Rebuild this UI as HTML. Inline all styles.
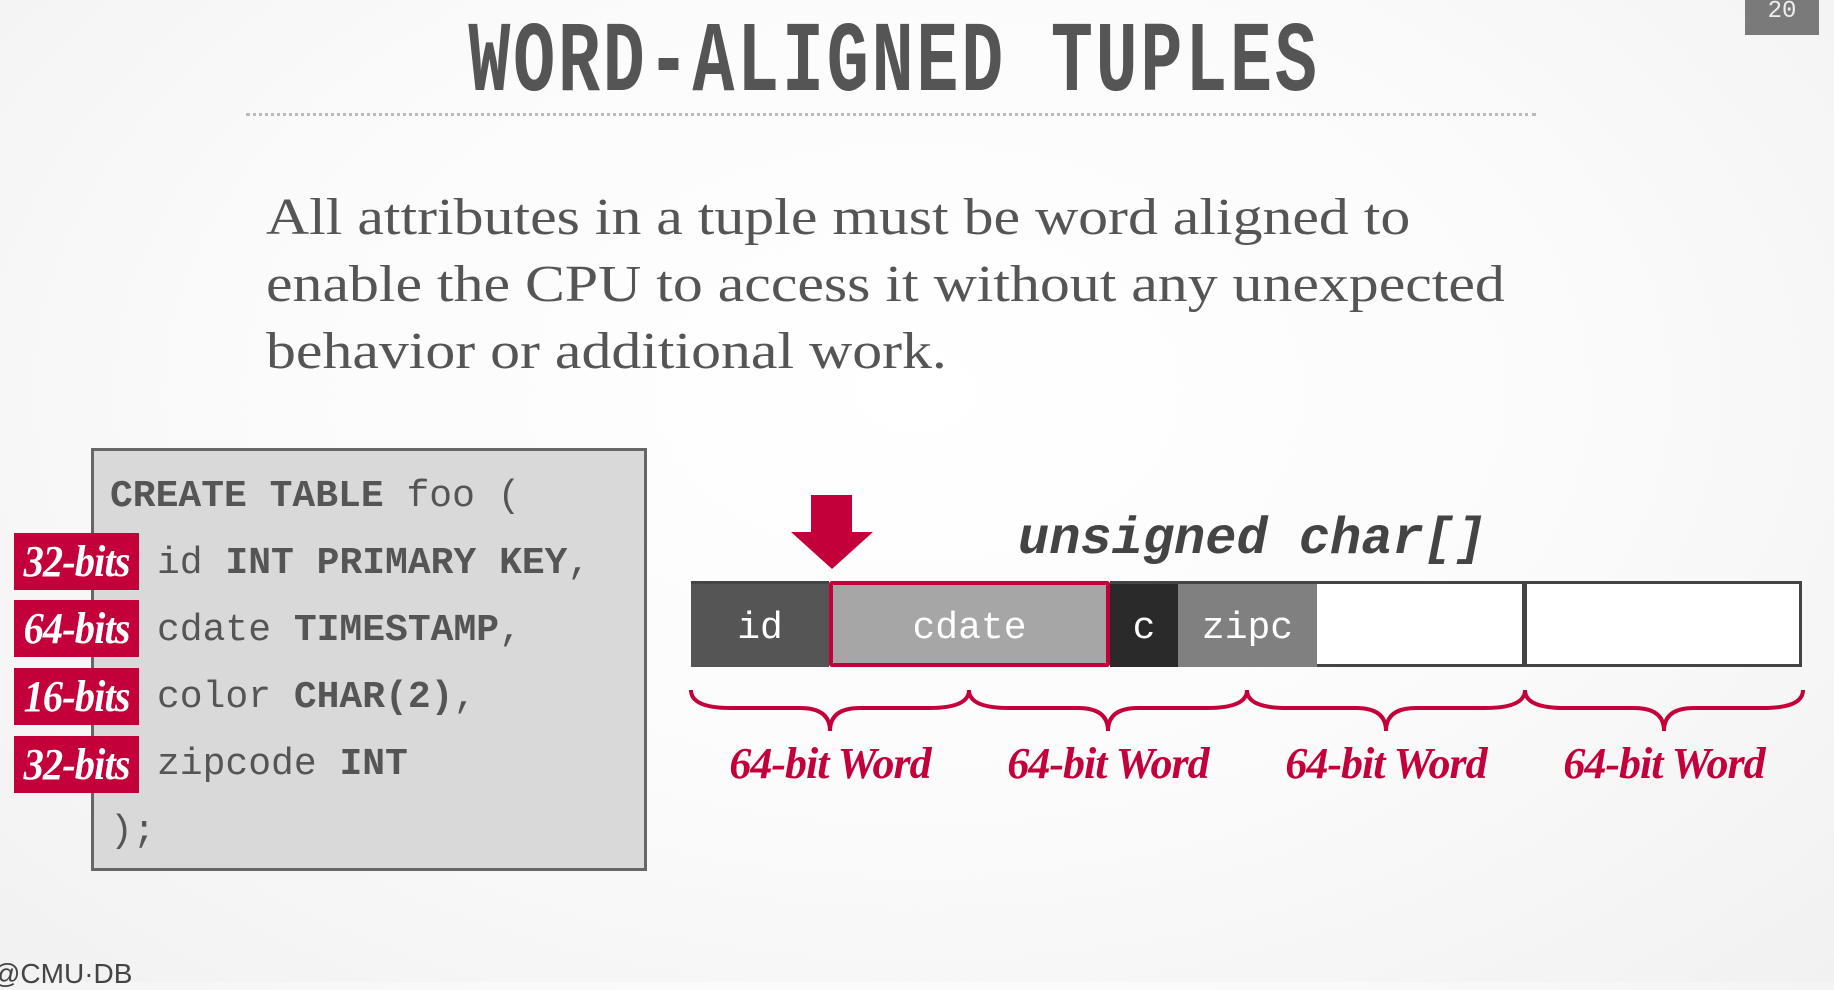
<!DOCTYPE html>
<html><head><meta charset="utf-8"><style>
html,body{margin:0;padding:0}
body{width:1834px;height:982px;overflow:hidden;position:relative;background:radial-gradient(ellipse at 50% 40%,#ffffff 0%,#fbfbfb 50%,#f1f1f1 100%);font-family:"Liberation Sans",sans-serif}
.abs{position:absolute}
.title{left:-23px;width:1834px;top:10px;text-align:center;font:bold 100px "Liberation Mono",monospace;color:#555;transform:scaleX(0.70);line-height:110px;letter-spacing:4px}
.dots{left:246px;top:113px;width:1290px;border-top:3px dotted #bbb}
.pg{left:1745px;top:0;width:74px;height:35px;background:#7a7a7a;color:#eee;font:24px "Liberation Mono",monospace;text-align:center;line-height:24px}
.body{left:266px;top:184px;font:52px/67px "Liberation Serif",serif;color:#555;transform:scaleX(1.15);transform-origin:0 0;white-space:nowrap}
.code{left:91px;top:448px;width:550px;height:417px;background:#d9d9d9;border:3px solid #666}
.cl{position:absolute;left:157px;font:38px "Liberation Mono",monospace;color:#555;white-space:pre}
.cl b{font-weight:bold}
.tag{position:absolute;left:14px;width:125px;height:57px;background:#c4003a;color:#fff;font:bold italic 44px/57px "Liberation Serif",serif;text-align:center;letter-spacing:-1px}
.tag span{display:inline-block;transform:scaleX(0.92)}
.uc{left:1018px;top:510px;font:bold italic 52px "Liberation Mono",monospace;color:#444;white-space:nowrap}
.seg{position:absolute;top:581px;height:86px;box-sizing:border-box;color:#fff;font:38px/96px "Liberation Mono",monospace;text-align:center}
.wl{position:absolute;top:738px;font:bold italic 44px "Liberation Serif",serif;color:#c4003a;width:278px;text-align:center;letter-spacing:-1px}
</style></head><body>
<div class="abs pg">20</div>
<div class="abs title">WORD-ALIGNED TUPLES</div>
<div class="abs dots"></div>
<div class="abs body">All attributes in a tuple must be word aligned to<br>enable the CPU to access it without any unexpected<br>behavior or additional work.</div>
<div class="abs code"></div>
<div class="cl" style="top:475px;left:110px"><b>CREATE TABLE</b> foo (</div>
<div class="cl" style="top:542px">id <b>INT PRIMARY KEY</b>,</div>
<div class="cl" style="top:609px">cdate <b>TIMESTAMP</b>,</div>
<div class="cl" style="top:676px">color <b>CHAR(2)</b>,</div>
<div class="cl" style="top:743px">zipcode <b>INT</b></div>
<div class="cl" style="top:810px;left:110px">);</div>
<div class="tag" style="top:533px"><span>32-bits</span></div>
<div class="tag" style="top:600px"><span>64-bits</span></div>
<div class="tag" style="top:668px"><span>16-bits</span></div>
<div class="tag" style="top:736px"><span>32-bits</span></div>
<div class="abs uc">unsigned char[]</div>
<svg class="abs" style="left:0;top:0" width="1834" height="982">
<polygon points="811,495 852,495 852,532 873,532 832,569 791,532 811,532" fill="#c4003a"/>
</svg>
<div class="seg" style="left:691px;width:138px;background:#555">id</div>
<div class="seg" style="left:829px;width:281px;background:#a6a6a6;border:4px solid #c4003a;line-height:88px;border-radius:3px">cdate</div>
<div class="seg" style="left:1110px;width:68px;background:#2a2a2a">c</div>
<div class="seg" style="left:1178px;width:139px;background:#808080">zipc</div>
<div class="seg" style="left:1317px;width:208px;background:#fff;border:3px solid #444;border-left:none"></div>
<div class="seg" style="left:1524px;width:278px;background:#fff;border:3px solid #444"></div>
<div class="abs" style="left:691px;top:581px;width:138px;height:3px;background:#444"></div>
<div class="abs" style="left:1110px;top:581px;width:207px;height:3px;background:#444"></div>
<svg class="abs" style="left:0;top:0" width="1834" height="982" fill="none" stroke="#c4003a" stroke-width="4">
<path d="M691 690 Q691 708 731 708 L800 708 Q830 708 830 731 Q830 708 860 708 L929 708 Q969 708 969 690"/>
<path d="M969 690 Q969 708 1009 708 L1078 708 Q1108 708 1108 731 Q1108 708 1138 708 L1207 708 Q1247 708 1247 690"/>
<path d="M1247 690 Q1247 708 1287 708 L1356 708 Q1386 708 1386 731 Q1386 708 1416 708 L1485 708 Q1525 708 1525 690"/>
<path d="M1525 690 Q1525 708 1565 708 L1634 708 Q1664 708 1664 731 Q1664 708 1694 708 L1763 708 Q1803 708 1803 690"/>
</svg>
<div class="wl" style="left:691px">64-bit Word</div>
<div class="wl" style="left:969px">64-bit Word</div>
<div class="wl" style="left:1247px">64-bit Word</div>
<div class="wl" style="left:1525px">64-bit Word</div>
<div class="abs" style="left:-8px;top:958px;font:28px 'Liberation Sans',sans-serif;color:#444">@CMU·DB</div>
</body></html>
